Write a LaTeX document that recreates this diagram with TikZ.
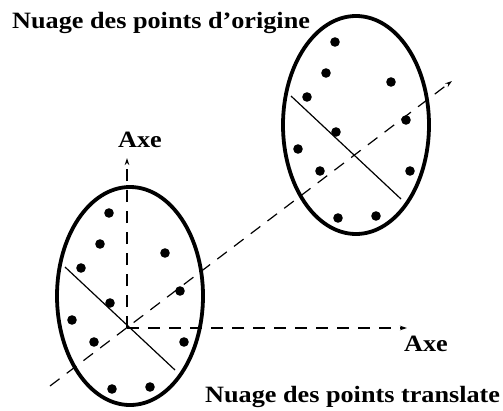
\documentclass[tikz,border=0pt]{standalone}
\usepackage{fontspec}
\setmainfont{Liberation Serif}[FakeStretch=1.12]
\usetikzlibrary{arrows.meta}

\begin{document}
\begin{tikzpicture}[
  x=1pt, y=-1pt,
  font=\fontsize{23.4}{27}\selectfont\bfseries,
  >={Stealth[length=7pt,width=4.5pt]},
  cloud/.style={draw, line width=3.8pt},
  axis/.style={->, line width=1.2pt, dash pattern=on 12pt off 9pt},
  principal/.style={line width=1.2pt},
  label/.style={anchor=base, inner sep=0pt},
  title/.style={anchor=base west, inner sep=0pt}
]
\useasboundingbox (0,0) rectangle (503,410);

% centres of gravity of the two clouds
\coordinate (gT) at (127,328);
\coordinate (gO) at (353,157);

% one cloud, drawn around each centre
\foreach \g in {gT,gO} {
  \begin{scope}[shift={(\g)}]
    \draw[cloud] (3,-32) ellipse [x radius=73, y radius=109];
    \draw[principal] (-62,-61) -- (48,42);
    \foreach \px/\py in {-18/-115,-27/-84,38/-75,-46/-60,53/-37,-17/-25,
                         -55/-8,-33/14,57/14,-15/61,23/59}
      \fill (\px,\py) circle [radius=4.8pt];
  \end{scope}
}

\coordinate (trStart) at (50,386);
\coordinate (trEnd) at (452,81);
\coordinate (yEnd) at (127,158);
\coordinate (xEnd) at (407,328);

\draw[axis] (trStart) -- (trEnd);
\draw[axis] (gT) -- (yEnd);
\draw[axis] (gT) -- (xEnd);

\node[label] (yLabel) at (140,147) {Axe};
\node[label] (xLabel) at (426,351) {Axe};

\node[title] (origTitle) at (12,28) {Nuage des points d’origine};
\node[title] (transTitle) at (205,402) {Nuage des points translate};

\end{tikzpicture}
\end{document}
